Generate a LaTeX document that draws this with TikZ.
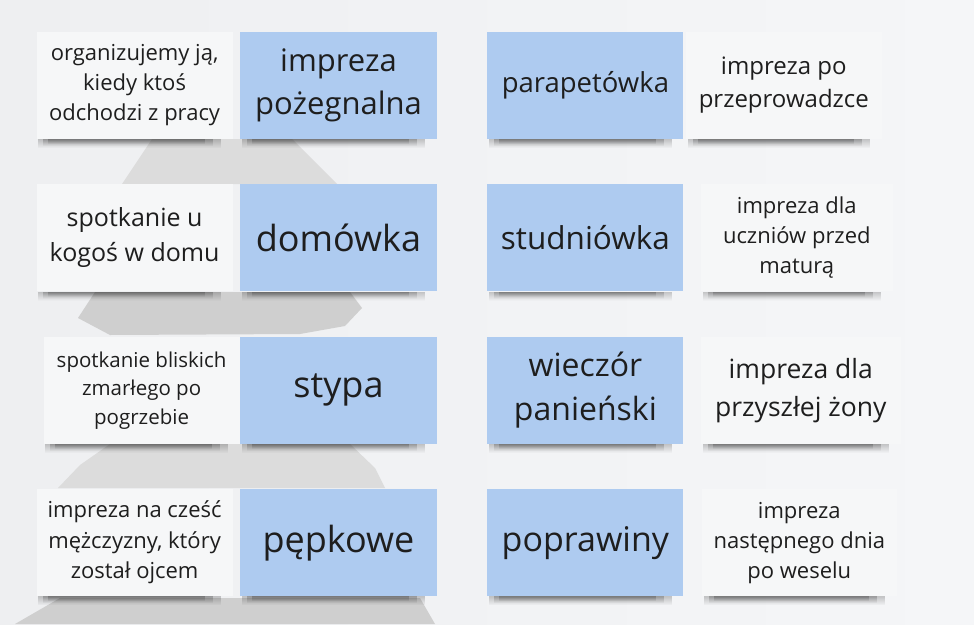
\documentclass[tikz,border=0pt]{standalone}
\usepackage{fontspec}
\setmainfont{Open Sans}
\usetikzlibrary{positioning, fadings, backgrounds}
\definecolor{TermBlue}{RGB}{174, 203, 240}
\definecolor{CardWhite}{RGB}{246, 247, 248}
\definecolor{PageGrey}{RGB}{238, 239, 241}
\definecolor{PageLight}{RGB}{245, 246, 248}
\definecolor{ChurchGrey}{RGB}{220, 220, 220}
\definecolor{InkGrey}{RGB}{30, 30, 30}

\begin{document}
\begin{tikzpicture}[
        x = 1pt, y = -1pt,
        term/.style = {
            fill = TermBlue,
            minimum width = 197pt,
            minimum height = 107pt,
            inner sep = 2pt,
            align = center,
            text = InkGrey
        },
        defn/.style = {
            fill = CardWhite,
            minimum width = 196pt,
            minimum height = 107pt,
            inner sep = 2pt,
            align = center,
            text = InkGrey
        },
        fs/.style 2 args = {font = \fontsize{#1}{#2}\selectfont},
        node distance = 45pt
    ]
        \useasboundingbox (0, 0) rectangle (974, 624);

        % page and the faded church behind the cards
        \begin{scope}[on background layer]
            \shade[left color = PageGrey, right color = PageLight] (0, 0) rectangle (974, 624);
            \fill[ChurchGrey] (152, 139) -- (292, 139) -- (337, 184) -- (122, 184) -- cycle;
            \fill[ChurchGrey!94!black] (95, 292) -- (350, 292) -- (362, 308) -- (345, 326) -- (300, 334) -- (110, 335) -- (78, 318) -- cycle;
            \fill[ChurchGrey] (110, 444) -- (350, 444) -- (375, 468) -- (385, 488) -- (58, 488) -- (80, 465) -- cycle;
            \fill[ChurchGrey!94!black] (60, 598) -- (420, 598) -- (435, 624) -- (15, 624) -- cycle;
        \end{scope}

        \node[term, fs = {31}{43}] (t1) at (338.5, 85.5) {impreza\\pożegnalna};
        \node[term, fs = {27.5}{38}, minimum width = 196pt, right = 50pt of t1] (t2) {parapetówka};
        \node[term, fs = {36}{48}, below = of t1] (t3) {domówka};
        \node[term, fs = {31.5}{43}, minimum width = 196pt, below = of t2] (t4) {studniówka};
        \node[term, fs = {36}{48}, below = of t3] (t5) {stypa};
        \node[term, fs = {32}{44}, minimum width = 196pt, below = of t4] (t6) {wieczór\\panieński};
        \node[term, fs = {36}{48}, below = of t5] (t7) {pępkowe};
        \node[term, fs = {34}{46}, minimum width = 196pt, below = of t6] (t8) {poprawiny};

        \node[defn, fs = {22}{30}, left = 7pt of t1] (d1) {organizujemy ją,\\kiedy ktoś\\odchodzi z pracy};
        \node[defn, fs = {24}{33}, right = 2pt of t2] (d2) {impreza po\\przeprowadzce};
        \node[defn, fs = {25}{35}, left = 7pt of t3] (d3) {spotkanie u\\kogoś w domu};
        \node[defn, fs = {22}{30}, minimum width = 192pt, right = 17pt of t4] (d4) {impreza dla\\uczniów przed\\maturą};
        \node[defn, fs = {20.5}{28.5}, left = 0pt of t5] (d5) {spotkanie bliskich\\zmarłego po\\pogrzebie};
        \node[defn, fs = {26.5}{38}, minimum width = 200pt, right = 17pt of t6] (d6) {impreza dla\\przyszłej żony};
        \node[defn, fs = {22}{30.5}, left = 7pt of t7] (d7) {impreza na cześć\\mężczyzny, który\\został ojcem};
        \node[defn, fs = {22}{30}, minimum width = 195pt, right = 18pt of t8] (d8) {impreza\\następnego dnia\\po weselu};

        % soft shadow under each card
        \begin{scope}[on background layer]
            \foreach \c in {d1, t1, t2, d2, d3, t3, t4, d4, d5, t5, t6, d6, d7, t7, t8, d8}
                \foreach \k in {0, 1, 2}
                    \fill[black, opacity = .2, path fading = south]
                        ([xshift = {2pt + 5pt*\k}] \c.south west)
                        rectangle ([xshift = {-12pt - 8pt*\k}, yshift = {-9pt + 2pt*\k}] \c.south east);
        \end{scope}
    \end{tikzpicture}
\end{document}
